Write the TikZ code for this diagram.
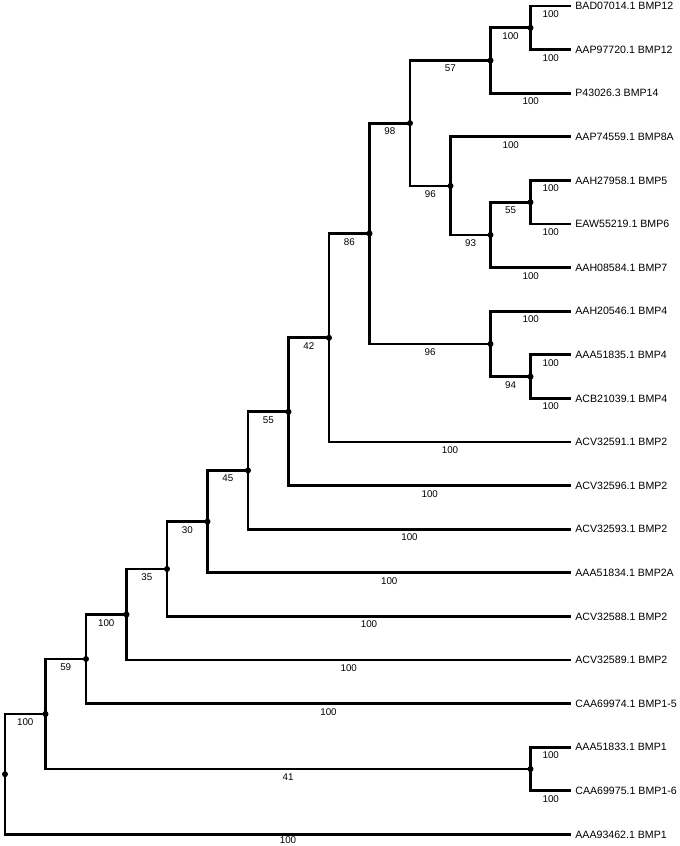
\documentclass[tikz,border=0pt]{standalone}
\usepackage{fontspec}
\setmainfont{Liberation Sans}
\begin{document}
\begin{tikzpicture}[x=1pt,y=-1pt,line width=2.8pt,
	leaf/.style={anchor=west,inner sep=3pt,font=\fontsize{10.6}{12}\selectfont},
	boot/.style={below=2.5pt,inner sep=0.8pt,pos=0.75,font=\fontsize{9.8}{11}\selectfont}]
		\useasboundingbox (0,0) rectangle (680,846);
		% leaves
		\node[leaf] (l1) at (571,6) {BAD07014.1 BMP12};
		\node[leaf] (l2) at (571,49.6) {AAP97720.1 BMP12};
		\node[leaf] (l3) at (571,93.2) {P43026.3 BMP14};
		\node[leaf] (l4) at (571,136.8) {AAP74559.1 BMP8A};
		\node[leaf] (l5) at (571,180.4) {AAH27958.1 BMP5};
		\node[leaf] (l6) at (571,224) {EAW55219.1 BMP6};
		\node[leaf] (l7) at (571,267.6) {AAH08584.1 BMP7};
		\node[leaf] (l8) at (571,311.2) {AAH20546.1 BMP4};
		\node[leaf] (l9) at (571,354.8) {AAA51835.1 BMP4};
		\node[leaf] (l10) at (571,398.4) {ACB21039.1 BMP4};
		\node[leaf] (l11) at (571,442) {ACV32591.1 BMP2};
		\node[leaf] (l12) at (571,485.6) {ACV32596.1 BMP2};
		\node[leaf] (l13) at (571,529.2) {ACV32593.1 BMP2};
		\node[leaf] (l14) at (571,572.8) {AAA51834.1 BMP2A};
		\node[leaf] (l15) at (571,616.4) {ACV32588.1 BMP2};
		\node[leaf] (l16) at (571,660) {ACV32589.1 BMP2};
		\node[leaf] (l17) at (571,703.6) {CAA69974.1 BMP1-5};
		\node[leaf] (l18) at (571,747.2) {AAA51833.1 BMP1};
		\node[leaf] (l19) at (571,790.8) {CAA69975.1 BMP1-6};
		\node[leaf] (l20) at (571,834.4) {AAA93462.1 BMP1};
		% internal nodes
		\coordinate (n1) at (530.5,27.8);
		\coordinate (n2) at (490.5,60.5);
		\coordinate (n3) at (530.5,202.2);
		\coordinate (n4) at (490.5,234.9);
		\coordinate (n5) at (450.5,185.9);
		\coordinate (n6) at (410,123.2);
		\coordinate (n7) at (530.5,376.6);
		\coordinate (n8) at (490.5,343.9);
		\coordinate (n9) at (369.5,233.5);
		\coordinate (n10) at (329,337.8);
		\coordinate (n11) at (288.5,411.7);
		\coordinate (n12) at (248,470.4);
		\coordinate (n13) at (207.5,521.6);
		\coordinate (n14) at (167,569);
		\coordinate (n15) at (126.5,614.5);
		\coordinate (n16) at (86,659);
		\coordinate (n17) at (530.5,769);
		\coordinate (n18) at (45.5,714);
		\coordinate (n19) at (5,774.2);
		% branches
		\draw (n1) |- node[boot]{100} (l1.west);
		\draw (n1) |- node[boot]{100} (l2.west);
		\draw (n2) |- node[boot]{100} (n1);
		\draw (n2) |- node[boot]{100} (l3.west);
		\draw (n3) |- node[boot]{100} (l5.west);
		\draw (n3) |- node[boot]{100} (l6.west);
		\draw (n4) |- node[boot]{55} (n3);
		\draw (n4) |- node[boot]{100} (l7.west);
		\draw (n5) |- node[boot]{100} (l4.west);
		\draw (n5) |- node[boot]{93} (n4);
		\draw (n6) |- node[boot]{57} (n2);
		\draw (n6) |- node[boot]{96} (n5);
		\draw (n7) |- node[boot]{100} (l9.west);
		\draw (n7) |- node[boot]{100} (l10.west);
		\draw (n8) |- node[boot]{100} (l8.west);
		\draw (n8) |- node[boot]{94} (n7);
		\draw (n9) |- node[boot]{98} (n6);
		\draw (n9) |- node[boot]{96} (n8);
		\draw (n10) |- node[boot]{86} (n9);
		\draw (n10) |- node[boot]{100} (l11.west);
		\draw (n11) |- node[boot]{42} (n10);
		\draw (n11) |- node[boot]{100} (l12.west);
		\draw (n12) |- node[boot]{55} (n11);
		\draw (n12) |- node[boot]{100} (l13.west);
		\draw (n13) |- node[boot]{45} (n12);
		\draw (n13) |- node[boot]{100} (l14.west);
		\draw (n14) |- node[boot]{30} (n13);
		\draw (n14) |- node[boot]{100} (l15.west);
		\draw (n15) |- node[boot]{35} (n14);
		\draw (n15) |- node[boot]{100} (l16.west);
		\draw (n16) |- node[boot]{100} (n15);
		\draw (n16) |- node[boot]{100} (l17.west);
		\draw (n17) |- node[boot]{100} (l18.west);
		\draw (n17) |- node[boot]{100} (l19.west);
		\draw (n18) |- node[boot]{59} (n16);
		\draw (n18) |- node[boot]{41} (n17);
		\draw (n19) |- node[boot]{100} (n18);
		\draw (n19) |- node[boot,yshift=2pt]{100} (l20.west);
		% node dots
		\fill (n1) circle (3) (n2) circle (3) (n3) circle (3) (n4) circle (3)
		(n5) circle (3) (n6) circle (3) (n7) circle (3) (n8) circle (3)
		(n9) circle (3) (n10) circle (3) (n11) circle (3) (n12) circle (3)
		(n13) circle (3) (n14) circle (3) (n15) circle (3) (n16) circle (3)
		(n17) circle (3) (n18) circle (3) (n19) circle (3);
\end{tikzpicture}
\end{document}
